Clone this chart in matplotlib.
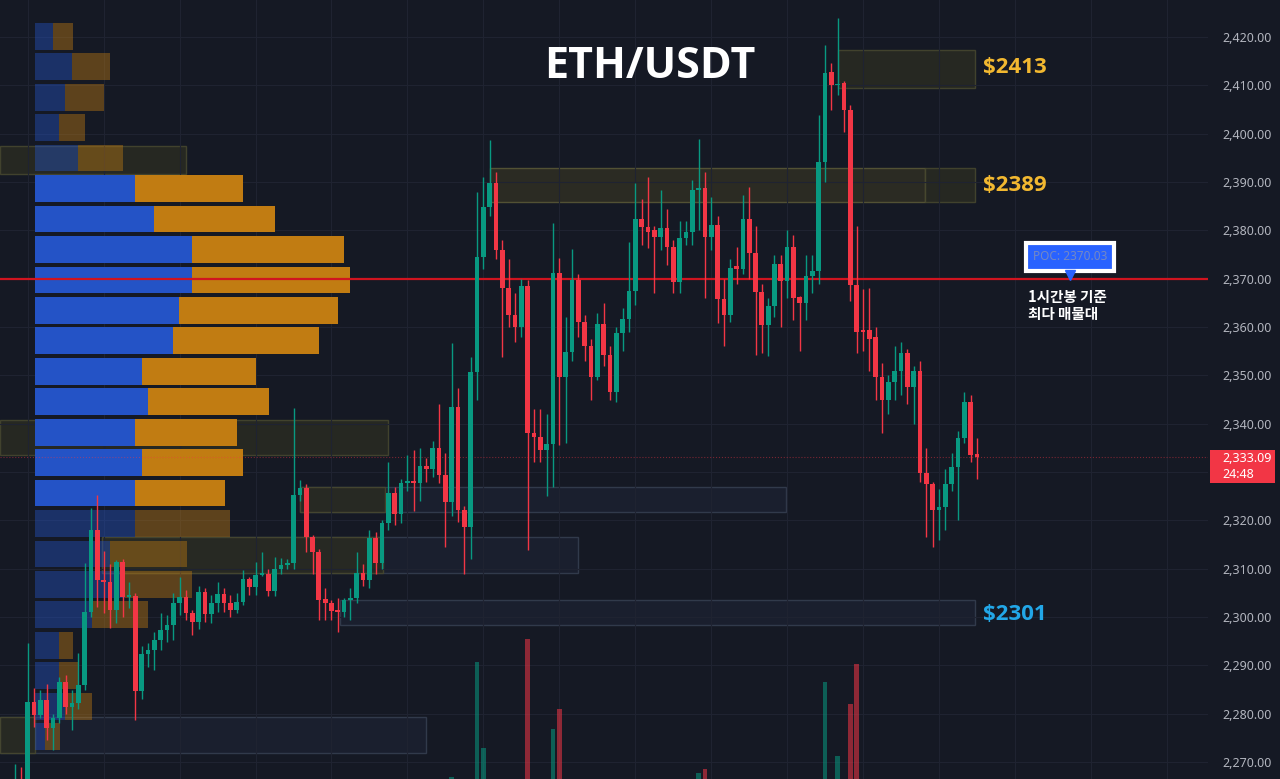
import numpy as np
import matplotlib
matplotlib.use('Agg')
import matplotlib.pyplot as plt
from matplotlib.patches import Rectangle

plt.rcParams['font.family'] = ['Noto Sans', 'Noto Sans CJK KR', 'DejaVu Sans']

# ETH/USDT 1h candles (oldest first)
opens = [2264.0, 2266.5, 2262.0, 2282.5, 2279.7, 2282.8, 2277.0, 2279.1, 2286.6, 2281.4,
         2282.2, 2286.0, 2301.1, 2318.0, 2307.7, 2307.3, 2301.5, 2311.4, 2304.2, 2304.4,
         2284.7, 2292.3, 2293.2, 2295.2, 2297.3, 2298.4, 2303.0, 2304.2, 2300.9, 2299.0,
         2305.2, 2300.6, 2302.9, 2304.8, 2303.0, 2301.5, 2303.2, 2307.9, 2306.3, 2308.7,
         2308.9, 2305.4, 2310.0, 2310.8, 2311.2, 2325.2, 2326.6, 2316.5, 2313.4, 2303.7,
         2302.9, 2301.5, 2301.0, 2303.5, 2303.9, 2309.1, 2307.7, 2316.3, 2311.2, 2319.4,
         2325.7, 2321.4, 2327.8, 2328.2, 2327.8, 2331.3, 2330.7, 2335.0, 2329.4, 2323.8,
         2343.4, 2322.1, 2318.6, 2350.7, 2374.5, 2384.8, 2389.8, 2375.9, 2368.0, 2362.5,
         2360.0, 2368.5, 2338.1, 2337.2, 2334.6, 2335.8, 2371.2, 2349.7, 2354.9, 2369.8,
         2361.0, 2356.1, 2349.7, 2360.6, 2354.3, 2346.6, 2358.8, 2361.6, 2367.4, 2382.3,
         2380.7, 2380.0, 2378.6, 2380.4, 2376.6, 2369.3, 2378.4, 2379.6, 2388.3, 2388.8,
         2378.6, 2381.1, 2365.8, 2362.5, 2372.6, 2372.0, 2382.3, 2375.3, 2367.2, 2360.4,
         2364.4, 2373.0, 2369.5, 2376.6, 2366.2, 2365.0, 2370.6, 2371.6, 2394.2, 2412.8,
         2410.0, 2410.4, 2405.0, 2368.6, 2359.2, 2359.4, 2357.9, 2349.7, 2345.0, 2348.7,
         2351.0, 2354.6, 2347.5, 2350.8, 2329.8, 2327.6, 2322.1, 2322.8, 2327.6, 2331.1,
         2337.0, 2344.4, 2333.8]
highs = [2269.5, 2269.0, 2294.6, 2285.3, 2284.9, 2286.1, 2280.0, 2287.6, 2288.0, 2284.9,
         2292.6, 2311.2, 2322.6, 2325.2, 2313.6, 2311.0, 2311.8, 2312.0, 2307.3, 2305.0,
         2294.0, 2294.6, 2297.0, 2300.8, 2300.4, 2305.0, 2308.3, 2305.6, 2301.5, 2306.5,
         2306.0, 2304.5, 2307.2, 2306.0, 2304.5, 2305.0, 2309.7, 2308.3, 2311.4, 2313.5,
         2310.0, 2312.5, 2312.2, 2312.0, 2343.2, 2328.3, 2327.5, 2317.0, 2314.0, 2306.0,
         2303.5, 2303.9, 2304.0, 2306.0, 2313.4, 2311.0, 2318.0, 2317.5, 2320.0, 2332.0,
         2327.0, 2328.5, 2333.5, 2334.5, 2335.0, 2333.0, 2336.5, 2344.0, 2333.9, 2356.7,
         2347.4, 2323.0, 2353.8, 2388.0, 2391.0, 2398.7, 2392.0, 2378.0, 2374.0, 2367.0,
         2370.0, 2369.7, 2343.0, 2343.0, 2342.0, 2381.5, 2374.3, 2362.0, 2376.2, 2371.0,
         2362.5, 2357.5, 2363.0, 2365.0, 2356.0, 2360.0, 2364.0, 2377.6, 2389.8, 2386.5,
         2391.0, 2381.0, 2388.4, 2384.5, 2378.0, 2382.0, 2382.0, 2390.5, 2399.0, 2392.0,
         2387.0, 2383.0, 2370.0, 2374.0, 2376.5, 2387.3, 2389.0, 2381.0, 2369.0, 2366.0,
         2375.0, 2375.0, 2380.0, 2379.0, 2366.5, 2375.0, 2375.0, 2403.8, 2418.3, 2414.6,
         2423.9, 2411.0, 2406.0, 2381.0, 2367.9, 2368.0, 2360.0, 2352.5, 2350.0, 2356.0,
         2357.0, 2355.5, 2352.0, 2353.0, 2335.0, 2328.0, 2326.5, 2330.6, 2334.0, 2338.5,
         2346.6, 2346.0, 2337.0]
lows = [2262.0, 2262.0, 2261.0, 2277.2, 2279.1, 2274.5, 2272.5, 2278.0, 2280.0, 2276.6,
        2281.0, 2285.0, 2300.0, 2302.0, 2300.8, 2297.7, 2298.8, 2300.0, 2301.9, 2278.7,
        2283.0, 2289.7, 2289.0, 2293.2, 2294.8, 2295.2, 2300.4, 2299.4, 2296.3, 2297.5,
        2299.0, 2298.8, 2301.0, 2301.0, 2300.0, 2300.8, 2302.5, 2304.5, 2304.5, 2308.5,
        2304.4, 2304.4, 2309.0, 2309.9, 2310.0, 2324.0, 2313.4, 2309.0, 2299.4, 2299.4,
        2299.4, 2296.9, 2300.0, 2299.4, 2303.0, 2306.5, 2306.0, 2309.0, 2310.0, 2318.0,
        2319.0, 2319.5, 2326.0, 2322.0, 2324.0, 2328.0, 2329.0, 2327.8, 2314.5, 2321.0,
        2319.7, 2309.0, 2312.0, 2345.0, 2372.0, 2383.0, 2374.0, 2353.8, 2360.0, 2357.0,
        2358.0, 2313.9, 2332.0, 2332.0, 2325.0, 2327.0, 2335.5, 2336.0, 2353.0, 2358.0,
        2353.0, 2345.0, 2349.0, 2352.0, 2344.9, 2344.5, 2355.0, 2359.0, 2364.5, 2377.0,
        2376.4, 2367.0, 2376.0, 2372.8, 2367.0, 2367.0, 2377.0, 2377.0, 2380.0, 2366.0,
        2376.0, 2360.8, 2356.0, 2361.0, 2369.0, 2371.0, 2370.0, 2354.2, 2354.6, 2354.0,
        2362.0, 2360.0, 2366.0, 2361.5, 2355.0, 2361.4, 2367.0, 2369.0, 2390.0, 2405.0,
        2408.0, 2400.4, 2365.3, 2354.6, 2355.1, 2351.0, 2345.0, 2338.0, 2342.0, 2345.0,
        2346.0, 2344.0, 2340.0, 2328.0, 2316.6, 2314.4, 2316.0, 2318.0, 2326.0, 2320.0,
        2336.0, 2332.0, 2328.5]
closes = [2266.5, 2263.5, 2282.5, 2279.7, 2282.8, 2277.0, 2279.1, 2286.6, 2281.4, 2282.2,
          2286.0, 2301.1, 2318.0, 2307.7, 2307.3, 2301.5, 2311.4, 2304.2, 2304.4, 2284.7,
          2292.3, 2293.2, 2295.2, 2297.3, 2298.4, 2303.0, 2304.2, 2300.9, 2299.0, 2305.2,
          2300.6, 2302.9, 2304.8, 2303.0, 2301.5, 2303.2, 2307.9, 2306.3, 2308.7, 2308.9,
          2305.4, 2310.0, 2310.8, 2311.2, 2325.2, 2326.6, 2316.5, 2313.4, 2303.5, 2302.9,
          2301.2, 2301.0, 2303.5, 2303.9, 2309.1, 2307.7, 2316.3, 2311.2, 2319.4, 2325.7,
          2321.4, 2327.8, 2328.2, 2327.8, 2331.3, 2330.7, 2335.0, 2329.4, 2323.8, 2343.4,
          2322.1, 2318.6, 2350.7, 2374.5, 2384.8, 2389.8, 2375.9, 2368.0, 2362.5, 2360.0,
          2368.5, 2338.1, 2337.2, 2334.6, 2335.8, 2371.2, 2349.7, 2354.9, 2369.8, 2361.0,
          2356.1, 2349.7, 2360.6, 2354.3, 2346.6, 2358.8, 2361.6, 2367.4, 2382.3, 2380.7,
          2379.7, 2378.6, 2380.4, 2376.6, 2369.3, 2378.4, 2379.6, 2388.3, 2388.8, 2378.6,
          2381.1, 2365.8, 2362.5, 2372.2, 2372.0, 2382.3, 2375.3, 2367.2, 2360.4, 2364.4,
          2373.0, 2369.5, 2376.6, 2366.0, 2365.0, 2370.6, 2371.6, 2394.2, 2412.6, 2410.0,
          2410.3, 2405.0, 2368.6, 2359.0, 2359.0, 2357.6, 2349.7, 2345.0, 2348.7, 2351.0,
          2354.6, 2347.5, 2350.8, 2329.8, 2327.6, 2322.1, 2322.8, 2327.6, 2331.1, 2337.0,
          2344.4, 2333.6, 2333.09]

# volume bars that reach into view (candle index, volume)
vol_idx = [67, 71, 72, 79, 83, 84, 106, 107, 126, 128, 130, 131]
vol_val = [62, 177, 91, 200, 110, 130, 66, 70, 157, 83, 135, 175]

# volume profile rows, top -> bottom (buy / sell)
prof_buy = [18, 37, 30, 24, 43, 100, 119, 157, 157, 144, 138, 107,
            113, 100, 107, 100, 100, 75, 90, 57, 24, 24, 30, 10]
prof_sell = [20, 38, 39, 26, 45, 108, 121, 152, 158, 159, 146, 114,
             121, 102, 101, 90, 95, 77, 67, 56, 14, 19, 27, 15]
prof_top = 2423.3
prof_step = 6.3
va_rows = range(5, 16)  # value area rows

poc = 2370.03
last_price = 2333.09

# zones: x from, x to (candle index), price low, price high, kind
zones = [
    (128.0, 149.7, 2409.4, 2417.3, 'olive'),
    (73.0, 141.8, 2385.9, 2392.9, 'olive2'),
    (141.8, 149.7, 2385.9, 2392.9, 'olive'),
    (-4.4, 25.0, 2391.7, 2397.5, 'olive'),
    (-4.4, 56.9, 2333.5, 2340.8, 'olive'),
    (43.0, 119.8, 2321.7, 2326.9, 'blue'),
    (43.0, 56.5, 2321.7, 2326.9, 'olive'),
    (11.7, 86.9, 2309.1, 2316.6, 'blue'),
    (11.7, 56.1, 2309.1, 2316.6, 'olive'),
    (49.3, 149.7, 2298.3, 2303.5, 'blue'),
    (-4.4, 62.9, 2271.9, 2279.3, 'blue'),
    (-4.4, 1.15, 2271.9, 2279.3, 'olive'),
]
levels = [('$2413', 2413.6, '#f2b830'), ('$2389', 2389.2, '#f2b830'), ('$2301', 2300.6, '#22a7e8')]

BG = '#151924'
UP = '#089981'
DN = '#f23645'
BOLD = ['Open Sans', 'DejaVu Sans']
KR = ['Noto Sans CJK KR', 'DejaVu Sans']

fig = plt.figure(figsize=(12.8, 7.79), dpi=100, facecolor=BG)
ax = fig.add_axes([0, 0, 1208 / 1280, 1])
ax.set_facecolor(BG)
ax.set_xlim(-4.38, 186.5)
ax.set_ylim(2266.49, 2427.66)
for s in ax.spines.values():
    s.set_visible(False)

# grid + price scale (2,330 label sits under the price tag)
ticks = np.arange(2270, 2421, 10)
ax.set_xticks(np.arange(0, 187, 12))
ax.set_yticks(ticks)
ax.set_yticklabels(['' if v == 2330 else f'{v:,.2f}' for v in ticks])
ax.grid(True, color='#1f2331', lw=0.8, zorder=0)
ax.tick_params(axis='x', length=0, labelbottom=False)
ax.yaxis.tick_right()
ax.tick_params(axis='y', length=0, pad=10, labelsize=9, labelcolor='#b2b5be')

# zones
zstyle = {'olive': ('#2a2b22', '#48492f'), 'olive2': ('#2f2f23', '#5c5a38'), 'blue': ('#1b2130', '#364052')}
for x0, x1, lo, hi, kind in zones:
    fc, ec = zstyle[kind]
    ax.add_patch(Rectangle((x0, lo), x1 - x0, hi - lo, facecolor=fc, edgecolor=ec,
                           lw=1, alpha=0.85, zorder=1))

# volume profile
px = 1 / 6.33
left = 1.15
for r, (b, s) in enumerate(zip(prof_buy, prof_sell)):
    yc = prof_top - r * prof_step - prof_step / 2
    a = 1.0 if r in va_rows else 0.42
    ax.barh(yc, b * px, height=prof_step * 0.88, left=left, color='#2453c6', alpha=a, zorder=2)
    ax.barh(yc, s * px, height=prof_step * 0.88, left=left + b * px, color='#c17c12', alpha=a, zorder=2)

# POC and last price lines
ax.axhline(poc, color='#d0141f', lw=1.6, zorder=2.5)
ax.axhline(last_price, color=DN, lw=0.8, ls=':', alpha=0.45, zorder=2.5)

# candles
idx = np.arange(-2, -2 + len(opens))
o = np.array(opens)
c = np.array(closes)
cols = [UP if cc >= oo else DN for oo, cc in zip(o, c)]
ax.vlines(idx, lows, highs, colors=cols, lw=1, zorder=3)
body = np.maximum(np.abs(c - o), 0.35)
ax.bar(idx, body, bottom=np.minimum(o, c), width=0.74, color=cols, zorder=4)

# volume
axv = fig.add_axes([0, 0, 1208 / 1280, 1], sharex=ax)
axv.set_ylim(60, 839)
axv.axis('off')
vcols = [UP if closes[i + 2] >= opens[i + 2] else DN for i in vol_idx]
axv.bar(vol_idx, vol_val, width=0.74, color=vcols, alpha=0.55)

# labels
for txt, y, col in levels:
    ax.text(150.9, y, txt, color=col, fontsize=16, fontweight='bold', family=BOLD,
            va='center', ha='left', zorder=6)

ax.text(164.7, 2374.5, f'POC: {poc:.2f}', color='#7488c4', fontsize=8.5, ha='center', va='center',
        bbox=dict(boxstyle='square,pad=0.6', fc='#2962ff', ec='white', lw=3), zorder=6)
ax.plot(164.7, 2370.8, marker='v', ms=7, color='#2962ff', zorder=6)
ax.text(158.0, 2366.2, '1시간봉 기준', color='white', fontsize=10.5, va='center', ha='left',
        family=KR, fontweight='bold', zorder=6)
ax.text(158.0, 2362.7, '최다 매물대', color='white', fontsize=10.5, va='center', ha='left',
        family=KR, fontweight='bold', zorder=6)

fig.text(650 / 1280, 1 - 66 / 779, 'ETH/USDT', color='white', fontsize=31, fontweight='bold',
         family=BOLD, ha='center', va='center')

# last price tag on the axis
fig.add_artist(Rectangle((1210 / 1280, 1 - 483 / 779), 65 / 1280, 33 / 779,
                         transform=fig.transFigure, facecolor=DN, edgecolor='none'))
fig.text(1222 / 1280, 1 - 459 / 779, f'{last_price:,.2f}', color='white', fontsize=9, va='center')
fig.text(1222 / 1280, 1 - 475 / 779, '24:48', color='white', fontsize=9, va='center')

fig.savefig('out.png', dpi=100, facecolor=BG)
